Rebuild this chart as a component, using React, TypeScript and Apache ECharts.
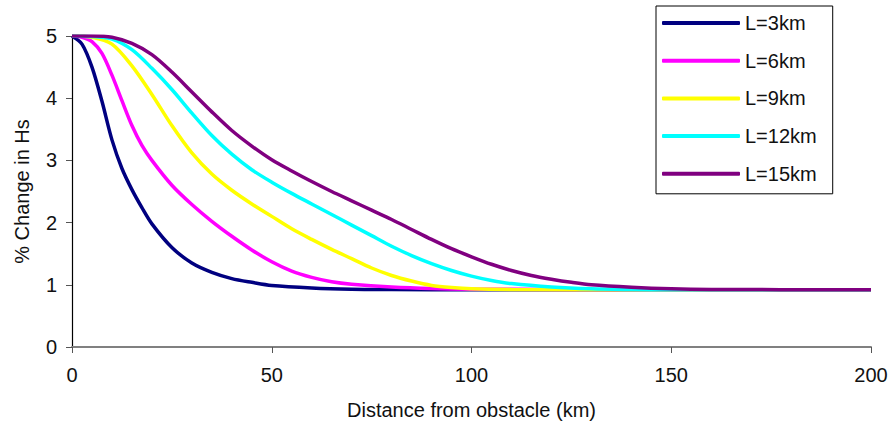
import React, { useEffect, useRef } from "react";
import * as echarts from "echarts";

const seriesNames = ["L=3km", "L=6km", "L=9km", "L=12km", "L=15km"];
const seriesColors = ["#000080", "#FF00FF", "#FFFF00", "#00FFFF", "#800080"];

const xTicks = [0, 50, 100, 150, 200];
const yTicks = [0, 1, 2, 3, 4, 5];

const L3: number[][] = [
  [0, 5], [2.5, 4.87], [5, 4.5], [7.5, 3.95], [10, 3.33], [12.5, 2.87], [15, 2.53],
  [17.5, 2.24], [20, 1.98], [25, 1.6], [30, 1.35], [35, 1.2], [40, 1.1], [45, 1.04],
  [50, 0.99], [60, 0.95], [70, 0.93], [80, 0.925], [100, 0.92], [150, 0.92], [200, 0.92],
];
const L6: number[][] = [
  [0, 5], [2.5, 4.98], [5, 4.91], [7.5, 4.72], [10, 4.37], [12.5, 3.96], [15, 3.56],
  [17.5, 3.24], [20, 3.0], [25, 2.6], [30, 2.29], [35, 2.02], [40, 1.78], [45, 1.56],
  [50, 1.37], [55, 1.22], [60, 1.12], [65, 1.05], [70, 1.01], [80, 0.965], [90, 0.94],
  [100, 0.93], [150, 0.92], [200, 0.92],
];
const L9: number[][] = [
  [0, 5], [5, 4.98], [10, 4.87], [15, 4.52], [20, 4.06], [25, 3.56], [30, 3.12],
  [35, 2.78], [40, 2.52], [45, 2.3], [50, 2.1], [55, 1.9], [60, 1.73], [65, 1.57],
  [70, 1.42], [75, 1.27], [80, 1.15], [85, 1.06], [90, 0.99], [95, 0.955], [100, 0.935],
  [110, 0.925], [150, 0.92], [200, 0.92],
];
const L12: number[][] = [
  [0, 5], [5, 4.99], [10, 4.95], [15, 4.78], [20, 4.48], [25, 4.14], [30, 3.76],
  [35, 3.4], [40, 3.1], [45, 2.85], [50, 2.65], [55, 2.47], [60, 2.3], [65, 2.13],
  [70, 1.96], [75, 1.79], [80, 1.62], [85, 1.47], [90, 1.34], [95, 1.23], [100, 1.14],
  [105, 1.07], [110, 1.02], [120, 0.965], [130, 0.935], [140, 0.925], [150, 0.92],
  [200, 0.92],
];
const L15: number[][] = [
  [0, 5], [5, 5], [10, 4.98], [15, 4.88], [20, 4.7], [25, 4.42], [30, 4.1], [35, 3.78],
  [40, 3.48], [45, 3.23], [50, 3.01], [55, 2.83], [60, 2.66], [65, 2.5], [70, 2.35],
  [75, 2.2], [80, 2.05], [85, 1.89], [90, 1.73], [95, 1.58], [100, 1.45], [105, 1.33],
  [110, 1.23], [115, 1.15], [120, 1.09], [125, 1.04], [130, 1.0], [140, 0.96],
  [150, 0.935], [160, 0.925], [200, 0.92],
];

const allData = [L3, L6, L9, L12, L15];

const FONT = "'Liberation Sans', Arial, sans-serif";

export default function App() {
  const ref = useRef<HTMLDivElement>(null);
  useEffect(() => {
    if (!ref.current) return;
    const chart = echarts.init(ref.current, undefined, { renderer: "svg" });
    chart.setOption({
      animation: false,
      backgroundColor: "#ffffff",
      textStyle: { fontFamily: FONT },
      grid: { left: 72, right: 24, top: 36, bottom: 82 },
      legend: {
        orient: "vertical",
        left: 656,
        top: 6,
        padding: [7, 16, 10, 6],
        itemGap: 17.7,
        itemWidth: 78,
        itemHeight: 4,
        icon: "roundRect",
        backgroundColor: "#ffffff",
        borderColor: "#000000",
        borderWidth: 1,
        borderRadius: 0,
        textStyle: { fontSize: 20, lineHeight: 20, color: "#111", fontFamily: FONT },
        data: seriesNames,
      },
      xAxis: {
        type: "value",
        min: xTicks[0],
        max: xTicks[xTicks.length - 1],
        interval: 50,
        name: "Distance from obstacle (km)",
        nameLocation: "middle",
        nameGap: 53,
        nameTextStyle: { fontSize: 20, color: "#111", fontFamily: FONT },
        axisLine: { show: true, lineStyle: { color: "#808080", width: 2 } },
        axisTick: { show: true, length: 6, lineStyle: { color: "#555", width: 1 } },
        axisLabel: { fontSize: 20, color: "#111", margin: 18, fontFamily: FONT },
        splitLine: { show: false },
      },
      yAxis: {
        type: "value",
        min: yTicks[0],
        max: yTicks[yTicks.length - 1],
        interval: 1,
        name: "% Change in Hs",
        nameLocation: "middle",
        nameGap: 40,
        nameTextStyle: { fontSize: 20, color: "#111", fontFamily: FONT },
        axisLine: { show: true, lineStyle: { color: "#000", width: 1.2 } },
        axisTick: { show: true, length: 6, lineStyle: { color: "#555", width: 1 } },
        axisLabel: { fontSize: 20, color: "#111", margin: 15, fontFamily: FONT },
        splitLine: { show: false },
      },
      series: allData.map((d, i) => ({
        name: seriesNames[i],
        type: "line",
        data: d,
        showSymbol: false,
        symbol: "none",
        smooth: 0.3,
        color: seriesColors[i],
        lineStyle: { color: seriesColors[i], width: 3.5 },
        z: 2 + i,
      })),
    });
    return () => chart.dispose();
  }, []);
  return (
    <div
      ref={ref}
      style={{ position: "fixed", left: 0, top: 0, width: 895, height: 429 }}
    />
  );
}
